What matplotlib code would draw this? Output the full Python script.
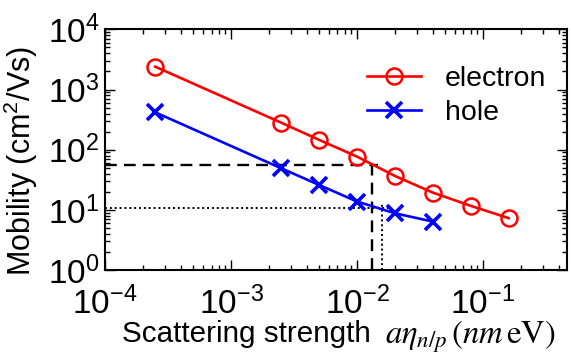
import matplotlib
matplotlib.use("Agg")
import matplotlib.pyplot as plt
from matplotlib.ticker import LogLocator, NullFormatter

plt.rcParams['font.family'] = ['Liberation Sans', 'DejaVu Sans']

# data
elec_x = [2.5e-4, 2.5e-3, 5e-3, 1e-2, 2e-2, 4e-2, 8e-2, 1.6e-1]
elec_y = [2400, 282, 146, 77, 36.7, 19.4, 11.7, 7.3]
hole_x = [2.5e-4, 2.5e-3, 5e-3, 1e-2, 2e-2, 4e-2]
hole_y = [419, 49.3, 26, 13.8, 8.8, 6.4]

# guide lines (electron / hole crossing)
dash_y = 56
dash_x = 1.32e-2
dot_y = 10.9
dot_x = 1.57e-2

xlim = (1e-4, 0.465)
ylim = (1, 1e4)

fig = plt.figure(figsize=(5.71, 3.54), dpi=100)
ax = fig.add_axes([0.184, 0.237, 0.809, 0.680])

ax.plot(elec_x, elec_y, color='red', lw=1.9, marker='o', ms=11.5, mfc='none',
        mec='red', mew=1.8, label='electron', zorder=3)
ax.plot(hole_x, hole_y, color='blue', lw=1.9, marker='x', ms=11,
        mec='blue', mew=2.6, label='hole', zorder=3)

ax.plot([xlim[0], dash_x * 1.12], [dash_y, dash_y], color='black', lw=1.7,
        ls=(0, (5, 3)), zorder=2)
ax.plot([dash_x, dash_x], [ylim[0], dash_y * 1.15], color='black', lw=1.7,
        ls=(0, (5, 3)), zorder=2)
ax.plot([xlim[0], dot_x * 1.12], [dot_y, dot_y], color='black', lw=1.4,
        ls=(0, (1, 1.5)), zorder=2)
ax.plot([dot_x, dot_x], [ylim[0], dot_y * 1.15], color='black', lw=1.4,
        ls=(0, (1, 1.5)), zorder=2)

ax.set_xscale('log')
ax.set_yscale('log')
ax.set_xlim(*xlim)
ax.set_ylim(*ylim)

ax.xaxis.set_major_locator(LogLocator(base=10, numticks=10))
ax.xaxis.set_minor_locator(LogLocator(base=10, subs=range(2, 10), numticks=10))
ax.xaxis.set_minor_formatter(NullFormatter())
ax.yaxis.set_major_locator(LogLocator(base=10, numticks=10))
ax.yaxis.set_minor_locator(LogLocator(base=10, subs=range(2, 10), numticks=10))
ax.yaxis.set_minor_formatter(NullFormatter())

ax.tick_params(which='both', direction='in', top=True, right=True, width=1.0)
ax.tick_params(which='major', length=7, labelsize=24)
ax.tick_params(which='minor', length=3.5)
ax.tick_params(axis='x', which='major', pad=12)
ax.tick_params(axis='y', which='major', pad=4)
for s in ax.spines.values():
    s.set_linewidth(1.5)

fig.text(0.037, 0.5466, r'Mobility (cm$^\mathregular{2}$/Vs)', fontsize=22,
         rotation=90, ha='center', va='center')
fig.text(0.2137, 0.0347, 'Scattering strength', fontsize=21.3,
         ha='left', va='baseline')
fig.text(0.674, 0.030, r'$a\eta_{n/p}\,(nm\,\mathrm{eV})$', fontsize=23.5,
         ha='left', va='baseline', math_fontfamily='stix')

ax.legend(loc='upper right', bbox_to_anchor=(0.98, 0.897), frameon=False,
          fontsize=20.5, handlelength=1.9, handletextpad=0.85, labelspacing=0.3,
          borderaxespad=0)

fig.savefig('out.png', dpi=100)
